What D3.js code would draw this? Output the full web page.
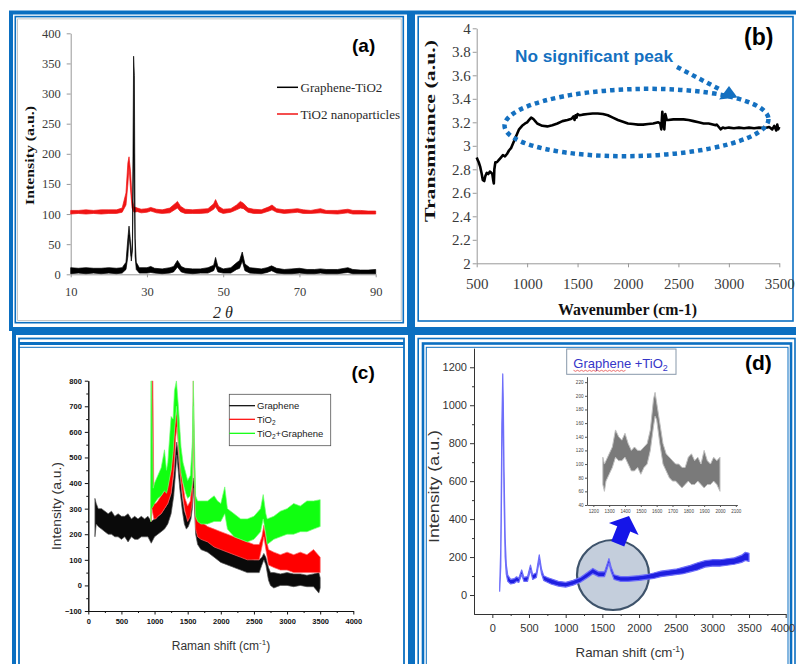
<!DOCTYPE html>
<html><head><meta charset="utf-8">
<script src="https://cdn.jsdelivr.net/npm/d3@7"></script>
<style>html,body{margin:0;padding:0;background:#fff;}svg{display:block;}</style>
</head><body>
<svg id="fig" width="796" height="664"></svg>
<script>
// ---------------- DATA ----------------
// (a) XRD: [2theta, bandLow, bandHigh]
const xrdGrapheneTiO2 = [[10,1,11],[12,2,10],[14,1,11],[16,2,10],[18,1,10],[20,2,11],[22,1,10],[23.5,2,11],[24.5,8,20],[25.0,30,60],[25.3,65,80],[25.6,45,60],[25.9,22,30],[26.2,40,60],[26.5,200,362],[26.7,150,330],[26.9,30,60],[27.2,8,20],[28,2,11],[30,2,11],[31,3,13],[32,2,10],[34,1,9],[36,2,11],[37,4,13],[38,12,23],[39,4,13],[40,2,10],[42,1,9],[44,2,9],[46,2,11],[47.5,6,15],[48,14,28],[48.6,4,13],[50,2,9],[52,2,11],[53.5,8,19],[54.3,10,23],[55,22,37],[55.7,6,17],[57,2,11],[60,1,9],[61.5,3,11],[62.7,6,14],[64,2,10],[66,1,8],[68,1,9],[70,2,10],[72,1,8],[74,1,8],[75.5,2,9],[77,1,8],[80,1,8],[82.7,3,11],[84,1,8],[86,1,7],[88,1,7],[90,1,8]];
const xrdTiO2Nano = [[10,100,106],[12,101,106],[14,100,107],[16,101,106],[18,100,107],[20,101,107],[22,101,107],[23.5,103,110],[24.5,115,135],[25.0,150,185],[25.3,180,195],[25.7,140,170],[26.1,110,125],[26.6,103,112],[27.5,104,110],[28.5,102,108],[30,103,109],[31,105,111],[32.5,102,108],[34,101,107],[36,102,110],[37.5,108,118],[38,110,121],[38.8,104,113],[40,101,108],[42,101,107],[44,101,108],[46,102,109],[47.5,108,117],[48,112,124],[48.8,104,113],[50,101,108],[52,103,109],[53.5,107,115],[54.5,110,121],[55.3,109,118],[56.5,103,110],[58,101,108],[60,101,107],[62,105,112],[62.8,107,115],[64,103,109],[66,101,107],[68,102,108],[69.5,103,109],[71,101,107],[73,101,106],[75.5,102,109],[77,101,106],[80,100,106],[82.7,102,108],[84,100,106],[86,100,106],[88,100,105],[90,100,105]];
const xrdTicksX = [10,30,50,70,90];
const xrdTicksY = [0,50,100,150,200,250,300,350,400];
const xrdLegend = ["Graphene-TiO2","TiO2 nanoparticles"];

// (b) FTIR: [wavenumber, transmittance]
const ftirSpectrum = [[500,2.90],[510,2.88],[520,2.86],[535,2.82],[550,2.76],[560,2.71],[575,2.70],[585,2.74],[600,2.77],[615,2.76],[630,2.78],[645,2.77],[655,2.76],[665,2.70],[670,2.68],[675,2.80],[685,2.86],[700,2.86],[720,2.88],[740,2.90],[760,2.92],[780,2.91],[800,2.93],[820,2.96],[840,2.98],[860,3.02],[880,3.06],[900,3.10],[920,3.14],[950,3.17],[980,3.19],[1000,3.20],[1020,3.22],[1040,3.24],[1060,3.23],[1080,3.21],[1100,3.19],[1150,3.17],[1200,3.165],[1250,3.175],[1300,3.19],[1350,3.21],[1400,3.22],[1440,3.23],[1460,3.25],[1470,3.22],[1480,3.26],[1490,3.24],[1500,3.27],[1520,3.26],[1550,3.265],[1600,3.27],[1650,3.275],[1700,3.275],[1750,3.27],[1800,3.26],[1850,3.24],[1900,3.22],[1950,3.205],[2000,3.19],[2050,3.185],[2100,3.18],[2150,3.18],[2200,3.185],[2250,3.19],[2300,3.20],[2320,3.19],[2330,3.14],[2340,3.29],[2350,3.20],[2360,3.14],[2370,3.27],[2385,3.22],[2400,3.22],[2450,3.225],[2500,3.225],[2550,3.225],[2600,3.22],[2650,3.21],[2700,3.20],[2750,3.19],[2800,3.19],[2850,3.18],[2870,3.175],[2880,3.18],[2900,3.16],[2920,3.14],[2940,3.155],[2960,3.15],[3000,3.155],[3050,3.15],[3100,3.155],[3150,3.15],[3200,3.155],[3250,3.15],[3300,3.155],[3350,3.15],[3400,3.16],[3430,3.14],[3450,3.17],[3470,3.13],[3480,3.18],[3490,3.14],[3500,3.16]];
const ftirTicksX = [500,1000,1500,2000,2500,3000,3500];
const ftirTicksY = [2,2.2,2.4,2.6,2.8,3,3.2,3.4,3.6,3.8,4];

// (c) Raman: [shift, bandLow, bandHigh]
const ramanGraphene = [[100,190,340],[120,240,320],[150,230,300],[200,220,300],[250,210,290],[300,200,280],[350,200,290],[400,190,270],[450,190,280],[500,180,270],[550,190,270],[600,170,280],[650,190,260],[700,180,270],[750,180,260],[800,190,270],[850,190,260],[900,190,270],[950,165,250],[1000,190,260],[1050,200,270],[1100,210,280],[1150,220,300],[1200,240,320],[1250,280,360],[1290,350,430],[1320,450,530],[1335,510,560],[1350,470,530],[1380,380,440],[1420,290,340],[1450,240,290],[1480,220,270],[1510,230,290],[1550,260,320],[1570,300,380],[1585,380,420],[1600,320,400],[1620,200,280],[1650,160,220],[1700,140,200],[1800,130,190],[1900,110,170],[2000,90,160],[2100,80,150],[2200,70,130],[2300,60,120],[2400,50,110],[2500,50,100],[2580,50,100],[2620,80,110],[2650,100,125],[2680,80,110],[2720,20,70],[2750,0,50],[2800,-10,50],[2900,0,45],[3000,0,50],[3100,-5,45],[3200,0,45],[3300,-5,40],[3400,-5,45],[3480,-30,50],[3500,-10,30]];
const ramanTiO2 = [[950,250,300],[960,300,800],[975,280,800],[990,260,320],[1020,260,320],[1050,270,330],[1100,280,350],[1150,300,370],[1200,320,390],[1250,360,450],[1290,450,580],[1320,580,660],[1340,620,680],[1360,540,620],[1390,430,500],[1420,360,410],[1460,290,340],[1500,250,310],[1540,270,330],[1570,330,420],[1585,600,800],[1600,380,500],[1620,220,300],[1650,190,260],[1700,180,250],[1800,170,230],[1900,150,220],[2000,140,210],[2100,130,200],[2200,120,190],[2300,110,180],[2400,100,170],[2500,100,160],[2580,100,160],[2620,150,190],[2650,190,235],[2680,140,190],[2720,80,140],[2800,70,130],[2900,60,120],[3000,60,130],[3100,50,120],[3200,50,130],[3300,50,120],[3400,50,140],[3500,50,110]];
const ramanTiO2Graphene = [[940,250,300],[945,250,800],[955,300,800],[980,310,380],[1000,320,400],[1050,340,430],[1100,350,460],[1150,370,530],[1180,360,450],[1200,380,480],[1250,450,660],[1280,520,650],[1300,600,760],[1330,700,800],[1360,560,700],[1400,440,540],[1430,400,480],[1470,360,440],[1500,340,410],[1540,350,430],[1570,400,560],[1585,700,800],[1600,420,600],[1620,270,350],[1650,250,330],[1700,240,330],[1800,240,330],[1900,250,350],[1950,250,330],[2000,250,320],[2060,280,385],[2100,220,300],[2200,190,280],[2300,180,260],[2400,170,260],[2500,180,270],[2600,210,300],[2640,260,355],[2680,200,280],[2700,160,260],[2800,180,270],[2900,190,290],[3000,200,300],[3100,200,320],[3200,210,310],[3300,210,330],[3400,220,330],[3500,230,335]];
const ramanTicksX = [0,500,1000,1500,2000,2500,3000,3500,4000];
const ramanTicksY = [-100,0,100,200,300,400,500,600,700,800];
const ramanLegend = ["Graphene","TiO2","TiO2+Graphene"];

// (d) Raman of composite: [shift, bandLow, bandHigh]
const ramanComposite = [[100,20,40],[115,150,250],[130,700,900],[142,1100,1165],[150,900,1000],[160,500,650],[175,200,300],[190,110,160],[210,72,105],[250,58,82],[300,62,86],[330,72,96],[360,66,88],[400,108,132],[430,72,93],[480,72,97],[520,132,158],[550,82,107],[600,92,117],[640,182,212],[670,112,137],[700,77,102],[750,67,92],[800,58,86],[900,47,72],[1000,42,67],[1100,52,77],[1200,67,92],[1300,92,120],[1370,112,140],[1450,97,122],[1530,97,122],[1590,167,192],[1620,122,147],[1660,82,107],[1750,72,97],[1850,72,97],[2000,77,102],[2100,82,107],[2200,87,116],[2300,97,126],[2400,102,131],[2500,107,136],[2600,112,146],[2700,122,156],[2800,132,170],[2900,147,181],[3000,152,186],[3100,152,186],[3200,157,191],[3300,162,196],[3400,172,210],[3450,182,225],[3500,177,220]];
const ramanInset = [[1260,70,110],[1270,60,100],[1280,75,105],[1300,85,115],[1320,95,125],[1340,110,150],[1360,105,140],[1380,105,135],[1400,110,145],[1420,100,130],[1440,90,120],[1460,90,125],[1480,95,120],[1500,85,120],[1520,95,125],[1540,100,130],[1560,120,150],[1580,155,195],[1590,170,205],[1600,165,190],[1620,130,160],[1640,100,130],[1660,90,115],[1680,80,110],[1700,75,105],[1720,75,100],[1740,70,100],[1760,65,95],[1780,70,95],[1800,75,110],[1820,70,115],[1840,70,105],[1860,75,110],[1880,70,100],[1900,65,120],[1920,70,105],[1940,70,100],[1960,75,110],[1980,70,105],[2000,60,110]];
const compTicksX = [0,500,1000,1500,2000,2500,3000,3500,4000];
const compTicksY = [0,200,400,600,800,1000,1200];
const insetTicksX = [1200,1300,1400,1500,1600,1700,1800,1900,2000,2100];
const insetTicksY = [40,60,80,100,120,140,160,180,200,220];

// ---------------- DRAWING ----------------
const svg = d3.select('#fig');
const BLUE = '#0b6fc1';
const SERIF = '"Liberation Serif", "Times New Roman", serif';
const SANS = '"Liberation Sans", Arial, sans-serif';
const fmtInt = d3.format('d');

function rect(x0,y0,x1,y1,w,color){
  svg.append('rect').attr('x',x0).attr('y',y0).attr('width',x1-x0).attr('height',y1-y0)
    .attr('fill','none').attr('stroke',color||BLUE).attr('stroke-width',w);
}
function hline(x0,x1,y,w,color){
  svg.append('line').attr('x1',x0).attr('x2',x1).attr('y1',y).attr('y2',y).attr('stroke',color||BLUE).attr('stroke-width',w);
}
function styleAxis(g, lineColor, font, size, weight, textColor){
  g.attr('font-family', null).attr('font-size', null);
  g.select('.domain').attr('stroke', lineColor);
  g.selectAll('.tick line').attr('stroke', lineColor);
  g.selectAll('.tick text').style('font-family', font).style('font-size', size+'px')
    .attr('fill', textColor).style('font-weight', weight||'normal');
}
function band(g, xs, ys, data, fill, stroke, sw, op){
  const area = d3.area().x(d=>xs(d[0])).y0(d=>ys(d[1])).y1(d=>ys(d[2]));
  g.append('path').datum(data).attr('d', area).attr('fill', fill).attr('fill-opacity', op==null?1:op)
   .attr('stroke', stroke).attr('stroke-width', sw).attr('stroke-linejoin','round');
}
function txt(g, x, y, s, font, size, opts){
  opts = opts || {};
  const t = g.append('text').attr('x',x).attr('y',y).style('font-family',font).style('font-size',size+'px')
    .attr('fill',opts.fill||'#222').attr('text-anchor',opts.anchor||'start');
  if (opts.weight) t.style('font-weight',opts.weight);
  if (opts.italic) t.style('font-style','italic');
  if (opts.len) t.attr('textLength',opts.len).attr('lengthAdjust','spacingAndGlyphs');
  if (opts.transform) t.attr('transform',opts.transform);
  if (s != null) t.text(s);
  return t;
}

// ---------- frames ----------
rect(11,12.5,409,329,4);
rect(15.3,16.6,403.3,322.7,1.6);
rect(17.6,18.9,401.2,320.4,0.8,'#b8b8b8');
rect(413,12.5,801,329,4);
rect(418.2,16.6,793,321,1.6);
rect(14,333,410,720,4);
rect(19,338.5,404,720,1.8);
hline(19,404,343.5,3);
hline(19,404,347.3,1);
rect(413,333,801,720,4);
rect(418.2,338.5,795,720,1.6);
rect(423,343.5,791,720,2.6);
rect(426.3,347.3,788,720,1);

// ---------- (a) XRD ----------
{
  const g = svg.append('g');
  const x = d3.scaleLinear().domain([10,90]).range([70.7,375.7]);
  const y = d3.scaleLinear().domain([0,400]).range([274.3,33.3]);
  const gx = g.append('g').attr('transform','translate(0,274.3)')
    .call(d3.axisBottom(x).tickValues(xrdTicksX).tickSize(3).tickSizeOuter(0).tickPadding(10));
  styleAxis(gx,'#999',SERIF,12.5,'normal','#3a3a3a');
  const gy = g.append('g').attr('transform','translate(70.7,0)')
    .call(d3.axisLeft(y).tickValues(xrdTicksY).tickSize(4).tickSizeOuter(0).tickPadding(6));
  styleAxis(gy,'#999',SERIF,12.5,'normal','#3a3a3a');
  band(g,x,y,xrdTiO2Nano,'#f01414','#f01414',0.7);
  band(g,x,y,xrdGrapheneTiO2,'#000','#000',0.7);
  const lg = [[xrdLegend[0],'#000',87.3],[xrdLegend[1],'#f01414',114]];
  lg.forEach(d=>{
    g.append('line').attr('x1',277).attr('x2',298).attr('y1',d[2]).attr('y2',d[2]).attr('stroke',d[1]).attr('stroke-width',1.5);
    txt(g,300.5,d[2]+4.5,d[0],SERIF,13,{fill:'#2a2a2a'});
  });
  txt(g,0,0,'Intensity (a.u.)',SERIF,13.5,{anchor:'middle',weight:'bold',len:99,fill:'#111',transform:'translate(34,155.5) rotate(-90)'});
  txt(g,223,318,'2 θ',SERIF,16,{anchor:'middle',italic:true,fill:'#222'});
  txt(g,352,52,'(a)',SANS,19,{weight:'bold',fill:'#000'});
}

// ---------- (b) FTIR ----------
{
  const g = svg.append('g');
  const x = d3.scaleLinear().domain([500,3500]).range([476.7,779.3]);
  const y = d3.scaleLinear().domain([2,4]).range([263.3,28.3]);
  const gx = g.append('g').attr('transform','translate(0,263.3)')
    .call(d3.axisBottom(x).tickValues(ftirTicksX).tickSize(4).tickSizeOuter(0).tickPadding(11).tickFormat(fmtInt));
  styleAxis(gx,'#999',SERIF,15,'normal','#3a3a3a');
  const gy = g.append('g').attr('transform','translate(476.7,0)')
    .call(d3.axisLeft(y).tickValues(ftirTicksY).tickSize(4).tickSizeOuter(0).tickPadding(2).tickFormat(d=>String(+d.toFixed(1))));
  styleAxis(gy,'#999',SERIF,15,'normal','#3a3a3a');
  g.append('path').datum(ftirSpectrum).attr('d', d3.line().x(d=>x(d[0])).y(d=>y(d[1])))
    .attr('fill','none').attr('stroke','#000').attr('stroke-width',2.6).attr('stroke-linejoin','round');
  g.append('ellipse').attr('cx',636.5).attr('cy',122.5).attr('rx',132).attr('ry',33.5)
    .attr('transform','rotate(-1.5,636.5,122.5)')
    .attr('fill','none').attr('stroke','#1470c0').attr('stroke-width',4.5).attr('stroke-dasharray','4.5 4');
  g.append('line').attr('x1',677).attr('y1',67).attr('x2',721).attr('y2',90)
    .attr('stroke','#1470c0').attr('stroke-width',4.5).attr('stroke-dasharray','4.5 4');
  g.append('path').attr('d','M729,86 L719,99.5 L737.5,97.5 Z').attr('fill','#1470c0');
  txt(g,515,62,'No significant peak',SANS,17,{weight:'bold',len:158,fill:'#1470c0'});
  txt(g,0,0,'Transmitance (a.u.)',SERIF,15,{anchor:'middle',weight:'bold',len:182,fill:'#111',transform:'translate(435,131) rotate(-90)'});
  txt(g,627.5,315,'Wavenumber (cm-1)',SERIF,16,{anchor:'middle',weight:'bold',len:139,fill:'#111'});
  txt(g,744,45,'(b)',SANS,23,{weight:'bold',fill:'#000'});
}

// ---------- (c) Raman ----------
{
  const g = svg.append('g');
  const x = d3.scaleLinear().domain([0,4000]).range([88.3,353.3]);
  const y = d3.scaleLinear().domain([-100,800]).range([611,380.7]);
  const minorX = d3.range(250,4000,500);
  const minorY = d3.range(-50,800,100);
  const gxm = g.append('g').attr('transform','translate(0,611)')
    .call(d3.axisBottom(x).tickValues(minorX).tickSize(2).tickSizeOuter(0).tickFormat(''));
  styleAxis(gxm,'#111',SANS,7.5,'bold','#111');
  const gx = g.append('g').attr('transform','translate(0,611)')
    .call(d3.axisBottom(x).tickValues(ramanTicksX).tickSize(3.5).tickSizeOuter(0).tickPadding(4).tickFormat(fmtInt));
  styleAxis(gx,'#111',SANS,7.5,'bold','#111');
  const gym = g.append('g').attr('transform','translate(88.3,0)')
    .call(d3.axisLeft(y).tickValues(minorY).tickSize(2).tickSizeOuter(0).tickFormat(''));
  styleAxis(gym,'#111',SANS,7.5,'bold','#111');
  const gy = g.append('g').attr('transform','translate(88.3,0)')
    .call(d3.axisLeft(y).tickValues(ramanTicksY).tickSize(3.5).tickSizeOuter(0).tickPadding(3).tickFormat(fmtInt));
  styleAxis(gy,'#111',SANS,7.5,'bold','#111');
  svg.append('clipPath').attr('id','clipC').append('rect').attr('x',88.3).attr('y',380.7).attr('width',265).attr('height',230.3);
  const pg = g.append('g').attr('clip-path','url(#clipC)');
  band(pg,x,y,ramanGraphene,'#0a0a0a','#555',0.7);
  band(pg,x,y,ramanTiO2,'#ff0000','#ff6060',0.7);
  band(pg,x,y,ramanTiO2Graphene,'#10ff10','#70ff70',0.7);
  g.append('rect').attr('x',229.3).attr('y',394.3).attr('width',101.4).attr('height',51.4).attr('fill','#fff').attr('stroke','#555').attr('stroke-width',0.8);
  const cols = ['#000','#ff0000','#00ff00'];
  const ys = [405.7,419.3,433.3];
  ramanLegend.forEach((name,i)=>{
    g.append('line').attr('x1',229.3).attr('x2',255).attr('y1',ys[i]).attr('y2',ys[i]).attr('stroke',cols[i]).attr('stroke-width',1.2);
    const t = txt(g,257,ys[i]+3.5,null,SANS,9.5,{fill:'#222'});
    if (name.startsWith('TiO2')) {
      t.append('tspan').text('TiO');
      t.append('tspan').style('font-size','6.5px').attr('dy',2.5).text('2');
      t.append('tspan').attr('dy',-2.5).text(name.slice(4));
    } else t.text(name);
  });
  const tx = txt(g,221,650,null,SANS,12,{anchor:'middle',fill:'#333'});
  tx.append('tspan').text('Raman shift (cm');
  tx.append('tspan').style('font-size','8px').attr('dy',-5).text('-1');
  tx.append('tspan').attr('dy',5).text(')');
  txt(g,0,0,'Intensity (a.u.)',SANS,12.5,{anchor:'middle',len:88,fill:'#333',transform:'translate(61,506) rotate(-90)'});
  txt(g,351.5,379,'(c)',SANS,19,{weight:'bold',fill:'#000'});
}

// ---------- (d) Raman composite ----------
{
  const g = svg.append('g');
  const x = d3.scaleLinear().domain([-250,4000]).range([474,785.7]);
  const y = d3.scaleLinear().domain([-100,1300]).range([614,348.3]);
  const minorX = d3.range(250,4000,500);
  const minorY = d3.range(100,1300,200);
  const gxm = g.append('g').attr('transform','translate(0,614)')
    .call(d3.axisBottom(x).tickValues(minorX).tickSize(2).tickSizeOuter(0).tickFormat(''));
  styleAxis(gxm,'#333',SANS,11,'normal','#333');
  const gx = g.append('g').attr('transform','translate(0,614)')
    .call(d3.axisBottom(x).tickValues(compTicksX).tickSize(4).tickSizeOuter(0).tickPadding(6).tickFormat(fmtInt));
  styleAxis(gx,'#333',SANS,11,'normal','#333');
  gx.selectAll('.tick text').filter(d=>d===4000).attr('text-anchor','end').attr('x',9);
  const gym = g.append('g').attr('transform','translate(474,0)')
    .call(d3.axisLeft(y).tickValues(minorY).tickSize(2).tickSizeOuter(0).tickFormat(''));
  styleAxis(gym,'#333',SANS,11,'normal','#333');
  const gy = g.append('g').attr('transform','translate(474,0)')
    .call(d3.axisLeft(y).tickValues(compTicksY).tickSize(4).tickSizeOuter(0).tickPadding(3).tickFormat(fmtInt));
  styleAxis(gy,'#333',SANS,11,'normal','#333');
  g.append('ellipse').attr('cx',613).attr('cy',575).attr('rx',36).attr('ry',35)
    .attr('fill','#c4cedc').attr('stroke','#3e536b').attr('stroke-width',2.2);
  band(g,x,y,ramanComposite,'#1f1fe0','#6e6efa',1.2);
  // arrow
  g.append('path').attr('d','M0,0 L16,14 L7,14 L7,30 L-7,30 L-7,14 L-16,14 Z')
    .attr('transform','translate(629,516) rotate(22)').attr('fill','#1515e8');
  // inset
  const ix = d3.scaleLinear().domain([1160,2110]).range([587,737.4]);
  const iy = d3.scaleLinear().domain([40,228]).range([505,376.7]);
  const igx = g.append('g').attr('transform','translate(0,505)')
    .call(d3.axisBottom(ix).tickValues(insetTicksX).tickSize(2).tickSizeOuter(0).tickPadding(2.5).tickFormat(fmtInt));
  styleAxis(igx,'#555',SANS,4.6,'normal','#444');
  const igy = g.append('g').attr('transform','translate(587,0)')
    .call(d3.axisLeft(iy).tickValues(insetTicksY).tickSize(2).tickSizeOuter(0).tickPadding(1.5).tickFormat(fmtInt));
  styleAxis(igy,'#555',SANS,4.6,'normal','#444');
  band(g,ix,iy,ramanInset,'#7a7a7a','#c0c0c0',1);
  g.append('rect').attr('x',566.7).attr('y',349).attr('width',109.3).attr('height',25.3).attr('fill','#fff').attr('stroke','#8798aa').attr('stroke-width',1);
  const tt = txt(g,573.3,367.5,null,SANS,13,{fill:'#3535c8'});
  tt.append('tspan').text('Graphene +TiO');
  tt.append('tspan').style('font-size','9px').attr('dy',3).text('2');
  g.append('path').attr('d', d3.range(0,54,2).map((v,i)=>(i?'L':'M')+(573.5+v)+','+(370.3+(i%2?1:0))).join(''))
    .attr('fill','none').attr('stroke','#e03030').attr('stroke-width',0.7);
  const tx = txt(g,630,657,null,SANS,13.3,{anchor:'middle',fill:'#333'});
  tx.append('tspan').text('Raman shift (cm');
  tx.append('tspan').style('font-size','8.5px').attr('dy',-5.5).text('-1');
  tx.append('tspan').attr('dy',5.5).text(')');
  txt(g,0,0,'Intensity (a.u.)',SANS,14,{anchor:'middle',len:113,fill:'#333',transform:'translate(439,486.5) rotate(-90)'});
  txt(g,745,370,'(d)',SANS,21,{weight:'bold',fill:'#000'});
}
</script>
</body></html>
